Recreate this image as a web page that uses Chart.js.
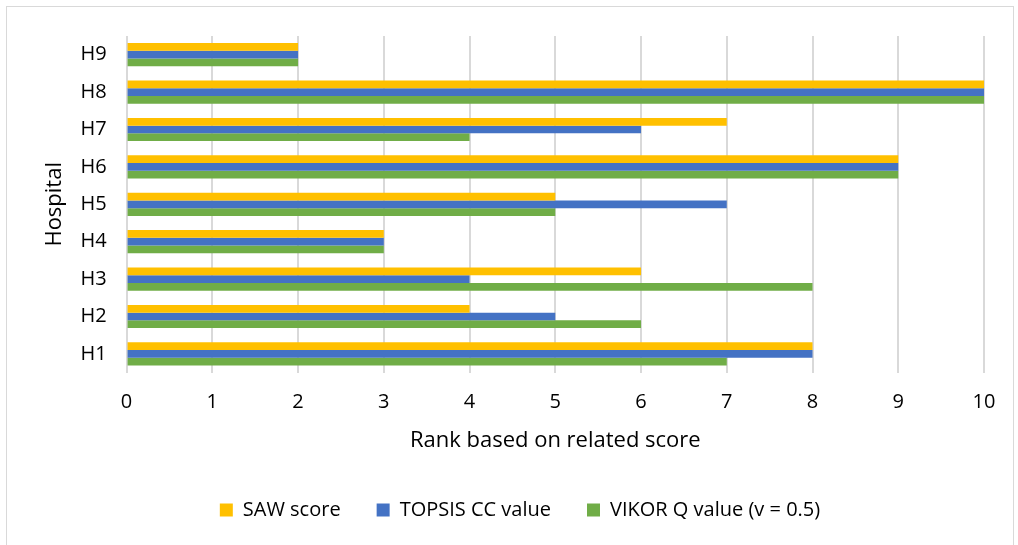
<!DOCTYPE html>
<html>
<head>
<meta charset="utf-8">
<script src="https://cdn.jsdelivr.net/npm/chart.js@4"></script>
<style>
  html, body { margin: 0; padding: 0; background: #fff; }
  #frame { position: absolute; left: 6px; top: 6px; width: 1008px; height: 545px; border: 1.5px solid #d9d9d9; box-sizing: border-box; }
  #wrap { position: absolute; left: 0; top: 0; width: 1018px; height: 545px; }
</style>
</head>
<body>
<div id="frame"></div>
<div id="wrap"><canvas id="rankChart"></canvas></div>
<script>
// Hospitals, bottom to top
const hospitals = ['H1', 'H2', 'H3', 'H4', 'H5', 'H6', 'H7', 'H8', 'H9'];

const sawScore = [8, 4, 6, 3, 5, 9, 7, 10, 2];
const topsisCC = [8, 5, 4, 3, 7, 9, 6, 10, 2];
const vikorQ   = [7, 6, 8, 3, 5, 9, 4, 10, 2];

const xTicks = [0, 1, 2, 3, 4, 5, 6, 7, 8, 9, 10];

const font = '"Open Sans", Lato, sans-serif';

let myChart = new Chart(document.getElementById('rankChart'), {
    type: 'bar',
    data: {
        labels: hospitals,
        datasets: [
            { label: 'SAW score', data: sawScore, backgroundColor: '#FFC000' },
            { label: 'TOPSIS CC value', data: topsisCC, backgroundColor: '#4472C4' },
            { label: 'VIKOR Q value (v = 0.5)', data: vikorQ, backgroundColor: '#70AD47' }
        ]
    },
    options: {
        indexAxis: 'y',
        responsive: true,
        maintainAspectRatio: false,
        animation: false,
        datasets: {
            bar: { barPercentage: 1, categoryPercentage: 0.62 }
        },
        layout: {
            // wide left padding keeps the legend centred like the original
            padding: { left: 56, right: 34, top: 36, bottom: 15 }
        },
        plugins: {
            tooltip: { enabled: false },
            legend: {
                position: 'bottom',
                labels: {
                    color: '#000',
                    font: { family: font, size: 20 },
                    boxWidth: 13,
                    boxHeight: 13,
                    padding: 36
                }
            }
        },
        scales: {
            x: {
                type: 'linear',
                min: 0,
                max: 10,
                afterBuildTicks: (axis) => { axis.ticks = xTicks.map(v => ({ value: v })); },
                grid: { color: '#d9d9d9', lineWidth: 2, drawTicks: false },
                border: { display: false },
                ticks: { color: '#000', font: { family: font, size: 20 }, padding: 18 },
                title: {
                    display: true,
                    text: 'Rank based on related score',
                    color: '#000',
                    font: { family: font, size: 22 },
                    padding: { top: -5, bottom: 10 }
                }
            },
            y: {
                reverse: true,
                grid: { display: false, drawTicks: false },
                border: { display: false },
                ticks: { color: '#000', font: { family: font, size: 20 }, padding: 20 },
                title: {
                    display: true,
                    text: 'Hospital',
                    color: '#000',
                    font: { family: font, size: 22 },
                    padding: { top: -14, bottom: -8 }
                }
            }
        }
    }
});
</script>
</body>
</html>
